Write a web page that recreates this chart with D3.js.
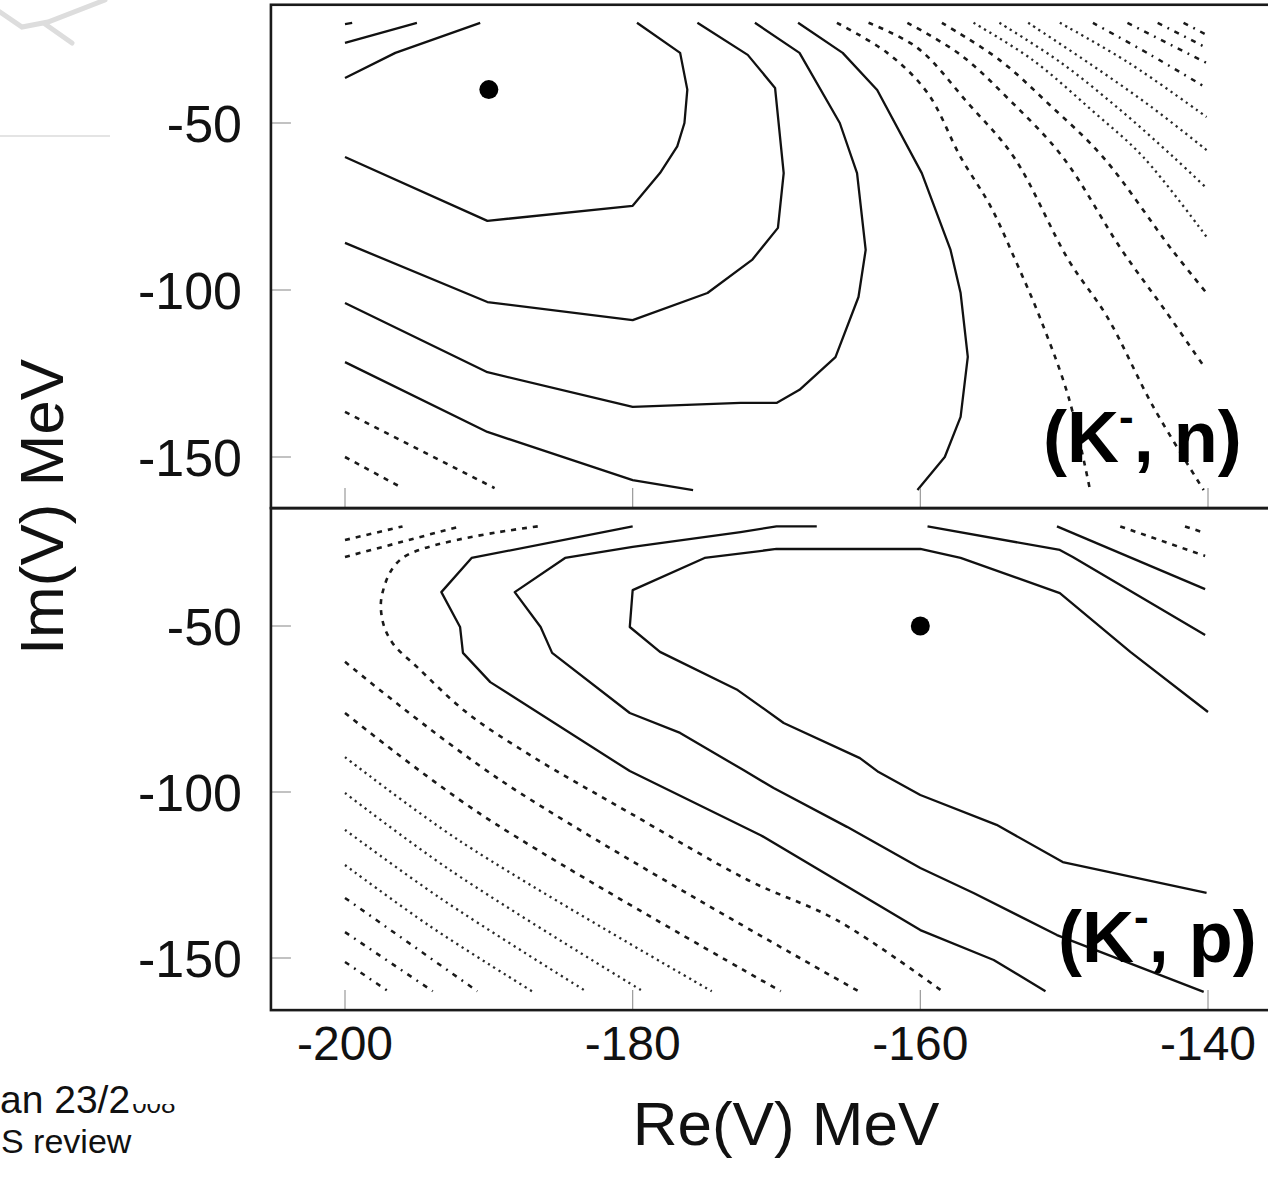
<!DOCTYPE html>
<html>
<head>
<meta charset="utf-8">
<script src="https://cdn.jsdelivr.net/npm/d3@7"></script>
<style>
  body { margin: 0; background: #fff; }
  svg { display: block; font-family: "Liberation Sans", Arial, sans-serif; }
</style>
</head>
<body>
<div id="chart"></div>
<script>
const xTicks = [-200, -180, -160, -140];
const yTicks = [-50, -100, -150];

// best-fit points [Re, Im] in MeV
const knMin = [-190, -40];
const kpMin = [-160, -50];

// (K-, n) contours, [Re, Im] MeV
const knSolid = [
  [[-200,-60.2],[-190.1,-79.3],[-180,-74.8],[-178.1,-65],[-176.9,-57],[-176.4,-50],[-176.2,-40],[-176.7,-29],[-179.7,-20]],
  [[-200,-85.9],[-190.1,-103.6],[-180,-109],[-174.8,-100.9],[-171.7,-91],[-169.9,-81.4],[-169.5,-65],[-170.1,-39.5],[-172,-29.6],[-175.5,-20]],
  [[-200,-103.9],[-190.1,-124.6],[-180,-135],[-172.5,-133.8],[-170,-133.8],[-168.4,-129.9],[-165.9,-120.1],[-164.3,-102.1],[-163.8,-88],[-164.4,-65],[-165.6,-50],[-168.4,-29],[-171.5,-20]],
  [[-200,-121.6],[-190.1,-142.5],[-180,-156.9],[-175.8,-159.9]],
  [[-160.2,-159.9],[-158.3,-150],[-157.2,-138],[-156.7,-120],[-157.2,-100.9],[-157.9,-88],[-159.9,-65],[-163,-40.1],[-165.4,-29],[-168.5,-20]],
  [[-200,-36.5],[-196.5,-29],[-190.6,-20]],
  [[-200,-26],[-195,-20]],
  [[-200,-20.4],[-199.5,-20]]
];
const knDash = [
  [[-200,-136.5],[-189.6,-159.3]],
  [[-200,-150],[-196,-159.3]],
  [[-165.8,-20],[-162.3,-29],[-159.5,-41],[-157.2,-60.2],[-155.1,-75.1],[-153.4,-91],[-151.7,-108.1],[-149.7,-132],[-148.2,-159.9]],
  [[-163.6,-20],[-160.2,-27.5],[-156.7,-44],[-153.5,-60.2],[-149.7,-91],[-147,-108.1],[-143.8,-135],[-140.3,-159.9]],
  [[-160.9,-20],[-157.2,-29.6],[-153.8,-43.1],[-150.1,-60.2],[-146,-88],[-143,-106],[-140.2,-123.4]],
  [[-158.5,-20],[-154.5,-31.1],[-151,-44.6],[-147.3,-60.2],[-142.5,-88],[-140.1,-100.9]]
];
const knDot = [
  [[-156.3,-20],[-152.2,-31.1],[-148.1,-46.1],[-144.5,-60.2],[-140.1,-84.1]],
  [[-154.5,-20],[-150.2,-32],[-146.1,-46.1],[-142.4,-60.2],[-140.1,-69.5]],
  [[-152.5,-20],[-148.1,-32.6],[-144,-45],[-140.1,-58.1]],
  [[-150.3,-20],[-145.5,-32],[-140.1,-48.2]]
];
const knDashDot = [
  [[-148,-20],[-144,-29.6],[-140.1,-39.5]],
  [[-145.6,-20],[-140.1,-32]],
  [[-143.5,-20],[-140.1,-27.5]],
  [[-141.7,-20],[-140.1,-23.6]]
];

// (K-, p) contours
const kpSolid = [
  [[-140,-75.9],[-145.4,-57.8],[-150.3,-40.1],[-157.2,-29.5],[-160,-26.8],[-170,-26.8],[-175,-29.5],[-180,-39.2],[-180.2,-50.3],[-178.1,-57.8],[-172.7,-69.3],[-169.5,-79.2],[-164.2,-89.8],[-162.9,-94],[-160,-100.9],[-154.7,-109.9],[-150.1,-121.1],[-140.1,-130.4]],
  [[-167.2,-20],[-170,-20],[-172.5,-21.7],[-180,-26.2],[-184.7,-29.5],[-188.2,-39.8],[-186.4,-50.3],[-185.6,-58.1],[-180.2,-76.2],[-176.7,-82.2],[-172.3,-93.4],[-170.2,-98.8],[-165.1,-110.5],[-160,-122.9],[-156.3,-130.4],[-150.5,-143.1],[-140.3,-160.2]],
  [[-180,-20],[-191.2,-29.5],[-193.3,-39.8],[-192,-50.3],[-191.8,-58.1],[-189.9,-66.9],[-180.2,-93.7],[-171.1,-113],[-160,-141.6],[-154.9,-150.6],[-151.3,-160]],
  [[-159.5,-20],[-150.3,-27.1],[-149.4,-29.2],[-140.2,-52.7]],
  [[-150.5,-20],[-140.2,-38.9]]
];
const kpDash = [
  [[-146.1,-20],[-140.2,-28.9]],
  [[-141.6,-20],[-140.2,-22]],
  [[-200,-24.1],[-196,-20]],
  [[-200,-29.2],[-192,-20]],
  [[-186.6,-20],[-196,-29.5],[-197.4,-40.1],[-197.4,-48.2],[-196.7,-55.1],[-195,-62.3],[-191.5,-76.2],[-186.9,-89.5],[-180.2,-106.3],[-172,-126.5],[-165.8,-138.6],[-158.6,-159.6]],
  [[-200,-60.8],[-189.2,-96.4],[-164.3,-160]],
  [[-200,-76.2],[-190.6,-106.6],[-169.7,-160]]
];
const kpDot = [
  [[-200,-89.5],[-192,-114.8],[-174.5,-160]],
  [[-200,-100.3],[-192.7,-123.5],[-179.3,-160]],
  [[-200,-111.4],[-193.4,-131.9],[-183.4,-159.6]],
  [[-200,-122],[-194.1,-140.4],[-187,-160]]
];
const kpDashDot = [
  [[-200,-131.9],[-190.8,-160]],
  [[-200,-142.2],[-193.9,-160]],
  [[-200,-151.2],[-197,-160]]
];

const W = 1268, H = 1177;
const svg = d3.select("#chart").append("svg").attr("width", W).attr("height", H);

const x = d3.scaleLinear().domain([-200, -140]).range([345, 1208]);
const yTop = d3.scaleLinear().domain([-50, -150]).range([123, 457]);
const yBot = d3.scaleLinear().domain([-50, -150]).range([626, 958]);

const styles = {
  solid:   {stroke: "#111", width: 2.3, dash: null, curve: d3.curveLinear},
  dash:    {stroke: "#1a1a1a", width: 2.6, dash: "5,6", curve: d3.curveCatmullRom},
  dot:     {stroke: "#2a2a2a", width: 2.3, dash: "2.2,4", curve: d3.curveCatmullRom},
  dashdot: {stroke: "#1a1a1a", width: 2.5, dash: "5,6,1.8,6", curve: d3.curveCatmullRom}
};

const panels = [
  {y: yTop, top: -14.6, bottom: -165.3, min: knMin, label: "n", labelY: 462,
   sets: {solid: knSolid, dash: knDash, dot: knDot, dashdot: knDashDot}},
  {y: yBot, top: -14.5, bottom: -165.7, min: kpMin, label: "p", labelY: 962,
   sets: {solid: kpSolid, dash: kpDash, dot: kpDot, dashdot: kpDashDot}}
];

panels.forEach(function (p, i) {
  const g = svg.append("g");

  Object.keys(p.sets).forEach(function (key) {
    const st = styles[key];
    const line = d3.line().x(d => x(d[0])).y(d => p.y(d[1])).curve(st.curve);
    g.selectAll("path." + key).data(p.sets[key]).enter().append("path")
      .attr("class", key)
      .attr("d", line)
      .attr("fill", "none")
      .attr("stroke", st.stroke)
      .attr("stroke-width", st.width)
      .attr("stroke-dasharray", st.dash)
      .attr("stroke-linecap", "butt")
      .attr("stroke-linejoin", "round");
  });

  g.append("circle")
    .attr("cx", x(p.min[0])).attr("cy", p.y(p.min[1]))
    .attr("r", 9.5).attr("fill", "#000");

  // inner ticks
  g.selectAll("line.yt").data(yTicks).enter().append("line")
    .attr("x1", x(-205.15)).attr("x2", x(-205.15) + 20)
    .attr("y1", d => p.y(d)).attr("y2", d => p.y(d))
    .attr("stroke", "#999").attr("stroke-width", 1.2);
  g.selectAll("line.xt").data(xTicks).enter().append("line")
    .attr("x1", d => x(d)).attr("x2", d => x(d))
    .attr("y1", p.y(p.bottom)).attr("y2", p.y(p.bottom) - 20)
    .attr("stroke", "#999").attr("stroke-width", 1.2);

  // frame
  g.append("rect")
    .attr("x", x(-205.15)).attr("y", p.y(p.top))
    .attr("width", x(-134) - x(-205.15))
    .attr("height", p.y(p.bottom) - p.y(p.top))
    .attr("fill", "none").attr("stroke", "#1a1a1a").attr("stroke-width", 2.6);

  g.selectAll("text.yl").data(yTicks).enter().append("text")
    .attr("x", 242).attr("y", d => p.y(d)).attr("dy", "0.36em")
    .attr("text-anchor", "end").attr("font-size", 52).attr("fill", "#111")
    .text(d => d);

  const t = g.append("text")
    .attr("x", i === 0 ? 1043 : 1058).attr("y", p.labelY)
    .attr("font-size", 72).attr("font-weight", "bold").attr("fill", "#000");
  t.append("tspan").text("(K");
  t.append("tspan").attr("font-size", 44).attr("dy", -30).text("-");
  t.append("tspan").attr("dy", 30).text(", " + p.label + ")");
});

svg.selectAll("text.xl").data(xTicks).enter().append("text")
  .attr("x", d => x(d)).attr("y", 1060)
  .attr("text-anchor", "middle").attr("font-size", 48).attr("fill", "#111")
  .text(d => d);

svg.append("text")
  .attr("x", 786).attr("y", 1145).attr("text-anchor", "middle")
  .attr("font-size", 62).attr("fill", "#111").text("Re(V) MeV");

svg.append("text")
  .attr("transform", "translate(63,507) rotate(-90)").attr("text-anchor", "middle")
  .attr("font-size", 62).attr("fill", "#111").text("Im(V) MeV");

// slide leftovers
svg.append("path")
  .attr("d", "M0,12 L22,27 L48,22 L105,0 M45,24 L72,43")
  .attr("fill", "none").attr("stroke", "#ddd").attr("stroke-width", 5).attr("stroke-linecap", "round");
svg.append("line").attr("x1", 0).attr("x2", 110).attr("y1", 136).attr("y2", 136)
  .attr("stroke", "#e4e4e4").attr("stroke-width", 2);

const foot = svg.append("text").attr("x", 0).attr("y", 1113).attr("font-size", 39).attr("fill", "#111");
foot.append("tspan").text("an 23/2");
foot.append("tspan").attr("font-size", 26).attr("dx", 2).text("008");
svg.append("rect").attr("x", 132).attr("y", 1085).attr("width", 50).attr("height", 19).attr("fill", "#fff");
svg.append("text").attr("x", 1).attr("y", 1153).attr("font-size", 34).attr("fill", "#111").text("S review");
</script>
</body>
</html>
